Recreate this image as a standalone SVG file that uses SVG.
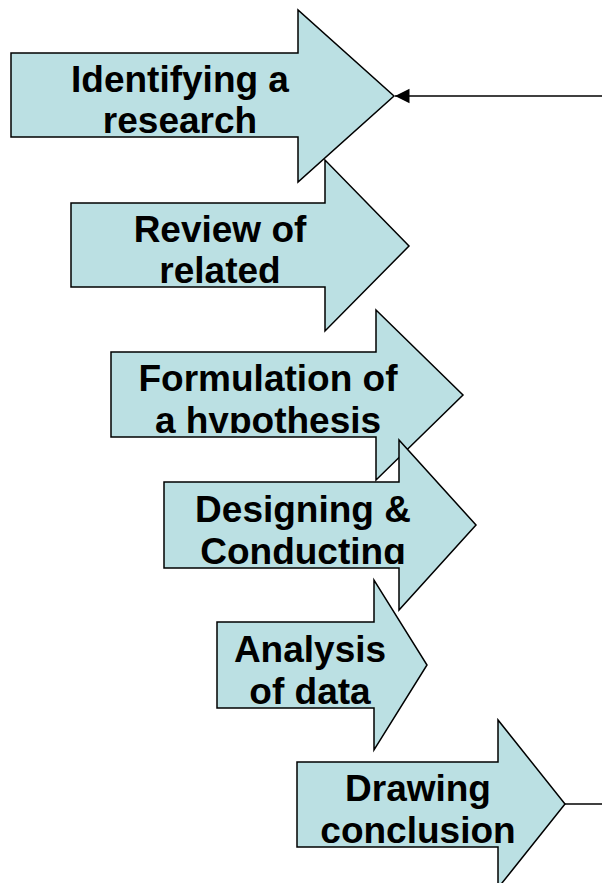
<svg xmlns="http://www.w3.org/2000/svg" width="602" height="883" viewBox="0 0 602 883">
<style>
.arr{fill:#BBE0E3;stroke:#000;stroke-width:1.5;stroke-linejoin:miter}
.t{font-family:"Liberation Sans",Arial,sans-serif;font-weight:bold;font-size:37px;fill:#000;text-anchor:middle}
.con{stroke:#000;stroke-width:1.5;fill:none}
</style>
<defs>
<marker id="ah" viewBox="0 0 10 10" refX="10" refY="5" markerWidth="10" markerHeight="10" markerUnits="userSpaceOnUse" orient="auto" overflow="visible">
<path d="M0,0 L10,5 L0,10 z" fill="#000" transform="scale(1.45)" transform-origin="10 5"/>
</marker>
<clipPath id="c1"><rect x="0" y="53" width="602" height="81"/></clipPath>
<clipPath id="c2"><rect x="0" y="203" width="602" height="81"/></clipPath>
<clipPath id="c3"><rect x="0" y="352" width="602" height="81"/></clipPath>
<clipPath id="c4"><rect x="0" y="482" width="602" height="82"/></clipPath>
<clipPath id="c5"><rect x="0" y="622" width="602" height="82"/></clipPath>
<clipPath id="c6"><rect x="0" y="762" width="602" height="81.5"/></clipPath>
</defs>
<g id="connectors">
<path class="con" d="M602,96 L395,96" marker-end="url(#ah)"/>
<path class="con" d="M565,804 L602,804"/>
</g>
<g id="step1">
<polygon class="arr" points="11,53 298,53 298,10 394,96 298,182 298,137 11,137"/>
<g clip-path="url(#c1)"><text class="t" x="180" y="92">Identifying a</text><text class="t" x="180" y="133">research</text></g>
</g>
<g id="step2">
<polygon class="arr" points="71,203 325,203 325,160 409,246 325,331 325,287 71,287"/>
<g clip-path="url(#c2)"><text class="t" x="220" y="242">Review of</text><text class="t" x="220" y="283">related</text></g>
</g>
<g id="step3">
<polygon class="arr" points="111,352 376,352 376,310 463,395 376,480 376,437 111,437"/>
<g clip-path="url(#c3)"><text class="t" x="268" y="391">Formulation of</text><text class="t" x="268" y="433">a hypothesis</text></g>
</g>
<g id="step4">
<polygon class="arr" points="164,482 399,482 399,440 476,525 399,610 399,568 164,568"/>
<g clip-path="url(#c4)"><text class="t" x="303" y="522">Designing &amp;</text><text class="t" x="303" y="564">Conducting</text></g>
</g>
<g id="step5">
<polygon class="arr" points="217,622 374,622 374,580 427,665 374,750 374,708 217,708"/>
<g clip-path="url(#c5)"><text class="t" x="310" y="662">Analysis</text><text class="t" x="310" y="704">of data</text></g>
</g>
<g id="step6">
<polygon class="arr" points="297,762 498,762 498,720 565,804 498,888 498,847 297,847"/>
<g clip-path="url(#c6)"><text class="t" x="418" y="801">Drawing</text><text class="t" x="418" y="843">conclusion</text></g>
</g>
</svg>
